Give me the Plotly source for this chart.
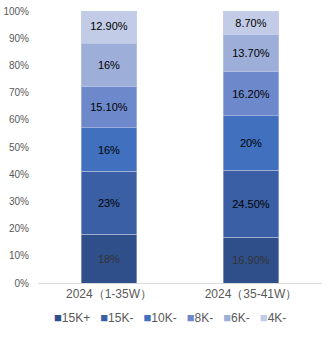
import plotly.graph_objects as go

categories = ["2024（1-35W）", "2024（35-41W）"]
series_names = ["15K+", "15K-", "10K-", "8K-", "6K-", "4K-"]
values = {
    "15K+": [18, 16.9],
    "15K-": [23, 24.5],
    "10K-": [16, 20],
    "8K-": [15.1, 16.2],
    "6K-": [16, 13.7],
    "4K-": [12.9, 8.7],
}
labels = {
    "15K+": ["18%", "16.90%"],
    "15K-": ["23%", "24.50%"],
    "10K-": ["16%", "20%"],
    "8K-": ["15.10%", "16.20%"],
    "6K-": ["16%", "13.70%"],
    "4K-": ["12.90%", "8.70%"],
}
colors = ["#2F4F8A", "#3A5FA5", "#4170BF", "#6D89CB", "#9DAED9", "#C2CCE6"]
text_colors = ["#333333", "#000000", "#000000", "#000000", "#000000", "#000000"]

fig = go.Figure()
for name, color, tc in zip(series_names, colors, text_colors):
    fig.add_trace(go.Bar(
        name=name,
        x=categories,
        y=[v / 100 for v in values[name]],
        text=labels[name],
        textposition="inside",
        insidetextanchor="middle",
        textangle=0,
        textfont=dict(color=tc, size=11, family="Liberation Sans, Arial"),
        marker=dict(color=color, line=dict(color="rgba(200,210,235,0.6)", width=0.8)),
        hoverinfo="skip",
    ))

# compact single-row legend built from the series names and colours
legend_text = "&nbsp;&nbsp;&nbsp;".join(
    f"<span style='color:{c};font-size:13px'>■</span>{n}" for n, c in zip(series_names, colors)
)
fig.add_annotation(
    text=legend_text,
    xref="paper", yref="paper",
    x=0.465, xanchor="center",
    y=-0.128, yanchor="middle",
    showarrow=False,
    font=dict(size=12, color="#595959", family="Liberation Sans, Arial"),
)

fig.update_layout(
    barmode="stack",
    bargap=0.61,
    width=336,
    height=345,
    margin=dict(l=38, r=14, t=11, b=62, autoexpand=False),
    paper_bgcolor="white",
    plot_bgcolor="white",
    uniformtext=dict(minsize=8, mode="show"),
    font=dict(family="Liberation Sans, Arial", color="#595959", size=11),
    showlegend=False,
    xaxis=dict(
        showline=True, linecolor="#D9D9D9", linewidth=1,
        ticks="", tickfont=dict(size=12, color="#595959"),
        showgrid=False,
    ),
    yaxis=dict(
        range=[0, 1],
        dtick=0.1,
        tickformat=".0%",
        showgrid=False,
        zeroline=False,
        showline=False,
        ticks="",
        ticklabelstandoff=8,
        tickfont=dict(size=10, color="#595959"),
    ),
)

fig.write_html("out.html")
